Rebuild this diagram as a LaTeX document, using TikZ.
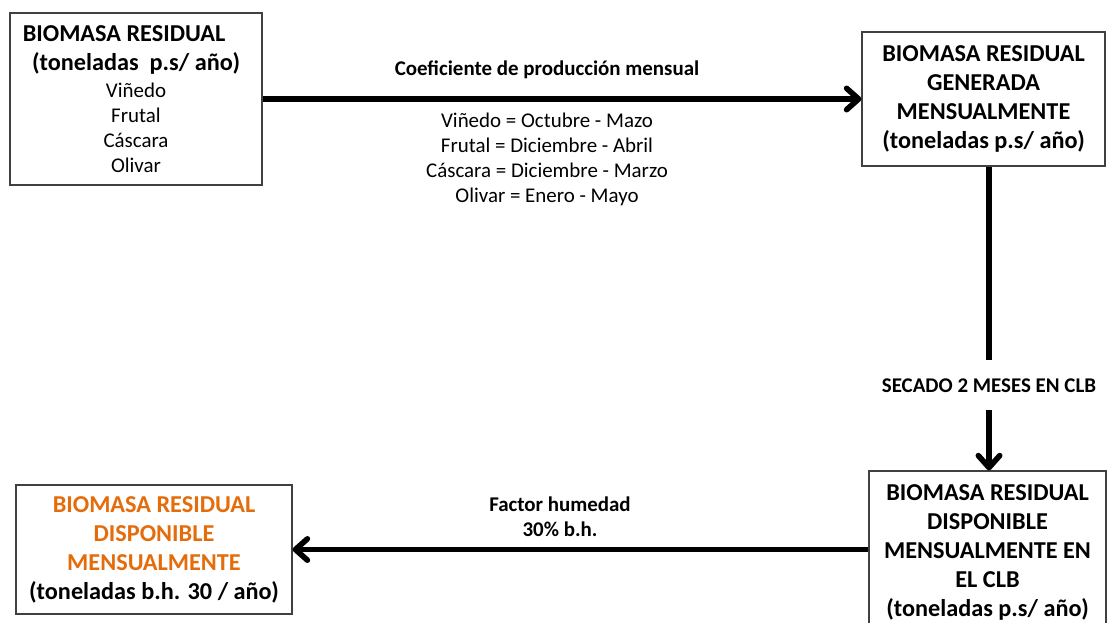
\documentclass[tikz,border=0pt]{standalone}
\usepackage{fontspec}
\setmainfont{Carlito}
\usetikzlibrary{arrows.meta, positioning, calc}
\definecolor{COrange}{HTML}{E46C0A}
\definecolor{CFrame}{HTML}{404040}

\tikzset{
    box/.style={draw=CFrame, line width=0.9pt, fill=white, align=center, inner sep=0pt,
        font=\fontsize{18.2}{21.75}\selectfont\bfseries},
    flow/.style={line width=4.2pt, -{Straight Barb[length=9pt, width=16pt, round]}},
    plain/.style={line width=4.2pt},
    lbl/.style={align=center, inner sep=0pt, font=\fontsize{15.7}{18.75}\selectfont\bfseries},
    small/.style={font=\fontsize{15.7}{18.75}\selectfont\mdseries}
}

\begin{document}
\begin{tikzpicture}[x=0.75pt, y=-0.75pt]
    % Frame of the picture
    \useasboundingbox (0,0) rectangle (1107,622);
    \clip (0,0) rectangle (1107,622);

    % Source box
    \node[box, minimum width=189pt, minimum height=129pt] (src) at (136,99)
        {BIOMASA RESIDUAL\hspace*{18pt}\\ (toneladas\ \ p.s/ año)\hspace*{5pt}\\[-1.5pt]
         {\mdseries\fontsize{15.7}{18.75}\selectfont Viñedo}\\[-3pt]
         {\mdseries\fontsize{15.7}{18.75}\selectfont Frutal}\\[-3pt]
         {\mdseries\fontsize{15.7}{18.75}\selectfont Cáscara}\\[-3pt]
         {\mdseries\fontsize{15.7}{18.75}\selectfont Olivar}};

    % Monthly generated biomass
    \node[box, minimum width=182.25pt, minimum height=100.5pt] (gen) at (983.5,99)
        {BIOMASA RESIDUAL\\ GENERADA\\ MENSUALMENTE\\ (toneladas p.s/ año)};

    % Biomass available in the CLB (runs off the bottom edge)
    \node[box, minimum width=177.75pt, minimum height=121.5pt] (clb) at (987.5,552)
        {BIOMASA RESIDUAL\\ DISPONIBLE\\ MENSUALMENTE EN\\ EL CLB\\ (toneladas p.s/ año)};

    % Final available biomass
    \node[box, minimum width=207pt, minimum height=96.75pt] (avail) at (154,549.5)
        {\textcolor{COrange}{BIOMASA RESIDUAL}\\ \textcolor{COrange}{DISPONIBLE}\\
         \textcolor{COrange}{MENSUALMENTE}\\ (toneladas b.h. 30 / año)};

    % Arrow 1: monthly production coefficient
    \draw[flow] (src.east |- gen.west) -- (gen.west);
    \node[lbl] (coef) at (547,70) {Coeficiente de producción mensual};
    \node[lbl, small, anchor=north] (months) at (547,113)
        {Viñedo = Octubre - Mazo\\ Frutal = Diciembre - Abril\\
         Cáscara = Diciembre - Marzo\\ Olivar = Enero - Mayo};

    % Arrow 2: drying in the CLB
    \coordinate (dryA) at (989,360);
    \coordinate (dryB) at (989,410);
    \draw[plain] (gen.south -| dryA) -- (dryA);
    \node[lbl] (dry) at (989,386) {SECADO 2 MESES EN CLB};
    \draw[flow] (dryB) -- (clb.north -| dryB);

    % Arrow 3: moisture factor
    \draw[flow] (clb.west |- avail.east) -- (avail.east);
    \node[lbl] (hum) at (560,517) {Factor humedad\\ 30\% b.h.};
\end{tikzpicture}
\end{document}
